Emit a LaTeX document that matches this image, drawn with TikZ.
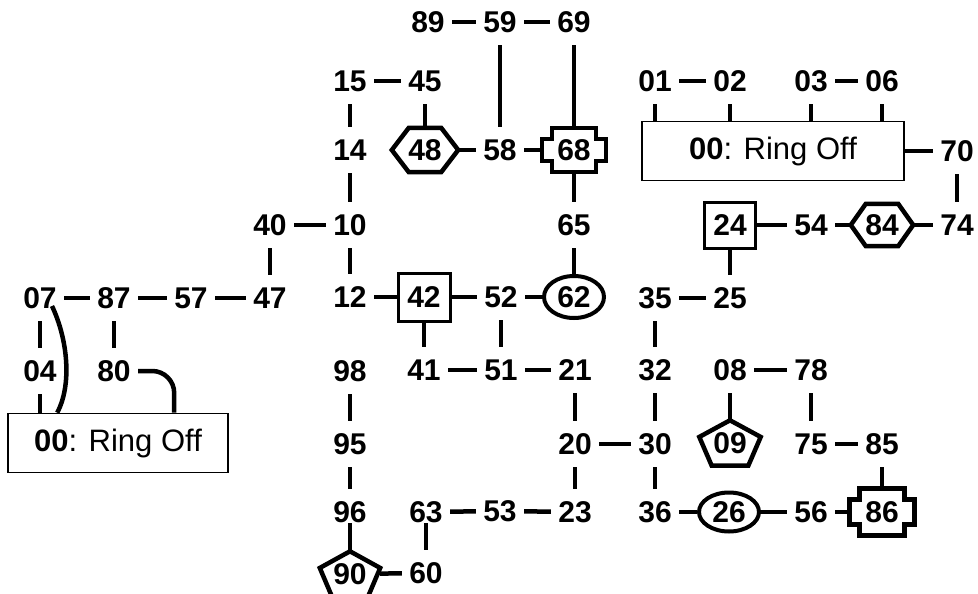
\documentclass[tikz,border=0pt]{standalone}
\usepackage{fontspec}
\setmainfont{Liberation Sans}
\usetikzlibrary{shapes.geometric}
\newcommand\hexo[2]{\draw[shp] (#1.west) -- ([xshift=#2]#1.north west) -- ([xshift=-#2]#1.north east) -- (#1.east) -- ([xshift=-#2]#1.south east) -- ([xshift=#2]#1.south west) -- cycle;}
\newcommand\pento[3]{\draw[shp] (#1.north) -- ([yshift={-0.37*#2}]#1.north east) -- ([xshift={0.3*#3}]#1.south) -- ([xshift={-0.3*#3}]#1.south) -- ([yshift={-0.37*#2}]#1.north west) -- cycle;}
\newcommand\crosso[3]{\draw[shp] ([xshift=#2]#1.north west) -- ([xshift=-#2]#1.north east) -- ([xshift=-#2,yshift=-#3]#1.north east) -- ([yshift=-#3]#1.north east) -- ([yshift=#3]#1.south east) -- ([xshift=-#2,yshift=#3]#1.south east) -- ([xshift=-#2]#1.south east) -- ([xshift=#2]#1.south west) -- ([xshift=#2,yshift=#3]#1.south west) -- ([yshift=#3]#1.south west) -- ([yshift=-#3]#1.north west) -- ([xshift=#2,yshift=-#3]#1.north west) -- cycle;}
\begin{document}
\begin{tikzpicture}[x=1pt,y=-1pt,
  num/.style={font=\fontsize{30}{36}\selectfont\bfseries, inner sep=0pt, minimum width=48pt, minimum height=46pt},
  edge/.style={line width=4.5pt},
  shp/.style={line width=4.5pt, line join=miter},
  sq/.style={num, draw, line width=3pt},
  ell/.style={num, ellipse, draw, line width=4pt},
  lab/.style={draw, line width=1.6pt, inner sep=0pt, font=\fontsize{31}{36}\selectfont}]
\useasboundingbox (0,0) rectangle (978,594);
% row A
\node[num] (n89) at (428,22) {89};
\node[num] (n59) at (500,22) {59};
\node[num] (n69) at (574,22) {69};
% row B
\node[num] (n15) at (350,81) {15};
\node[num] (n45) at (425,81) {45};
\node[num] (n01) at (655,81) {01};
\node[num] (n02) at (730,81) {02};
\node[num] (n03) at (811,81) {03};
\node[num] (n06) at (882,81) {06};
% row C
\node[num] (n14) at (350,150) {14};
\node[num, minimum width=66pt, minimum height=44pt] (h48) at (425,150) {48};
\node[num] (n58) at (500,150) {58};
\node[num, minimum width=64pt, minimum height=44pt] (x68) at (574,150) {68};
\node[lab, minimum width=262pt, minimum height=59pt] (rbox) at (773,151) {\textbf{00}: Ring Off};
\node[num] (n70) at (957,151) {70};
% row D
\node[num] (n40) at (270,225) {40};
\node[num] (n10) at (350,225) {10};
\node[num] (n65) at (574,225) {65};
\node[sq, minimum width=51pt, minimum height=46pt] (s24) at (730,225) {24};
\node[num] (n54) at (811,225) {54};
\node[num, minimum width=62pt, minimum height=42pt] (h84) at (882,225) {84};
\node[num] (n74) at (957,225) {74};
% row E
\node[num] (n07) at (40,298) {07};
\node[num] (n87) at (114,298) {87};
\node[num] (n57) at (191,298) {57};
\node[num] (n47) at (270,298) {47};
\node[num] (n12) at (350,297) {12};
\node[sq, minimum width=52pt, minimum height=48pt] (s42) at (424,297) {42};
\node[num] (n52) at (501,297) {52};
\node[ell, minimum width=60pt, minimum height=42pt] (e62) at (574,297) {62};
\node[num] (n35) at (655,298) {35};
\node[num] (n25) at (730,298) {25};
% row F
\node[num] (n04) at (40,371) {04};
\node[num] (n80) at (114,371) {80};
\node[num] (n98) at (350,371) {98};
\node[num] (n41) at (424,370) {41};
\node[num] (n51) at (501,370) {51};
\node[num] (n21) at (575,370) {21};
\node[num] (n32) at (655,370) {32};
\node[num] (n08) at (730,370) {08};
\node[num] (n78) at (811,370) {78};
% row G
\node[lab, minimum width=220pt, minimum height=59pt] (lbox) at (118,443) {\textbf{00}: Ring Off};
\node[num] (n95) at (350,444) {95};
\node[num] (n20) at (575,444) {20};
\node[num] (n30) at (655,444) {30};
\node[num, minimum width=61pt, minimum height=45pt] (p09) at (730,443) {09};
\node[num] (n75) at (811,444) {75};
\node[num] (n85) at (882,444) {85};
% row H
\node[num] (n96) at (350,512) {96};
\node[num] (n63) at (426,512) {63};
\node[num] (n53) at (500,511) {53};
\node[num] (n23) at (575,512) {23};
\node[num] (n36) at (655,512) {36};
\node[ell, minimum width=60pt, minimum height=39pt] (e26) at (729,512) {26};
\node[num] (n56) at (811,512) {56};
\node[num, minimum width=65pt, minimum height=47pt] (x86) at (882,512) {86};
% row I
\node[num, minimum width=60pt, minimum height=45pt] (p90) at (350,574) {90};
\node[num] (n60) at (426,573) {60};
% shape outlines
\hexo{h48}{17pt}
\hexo{h84}{15pt}
\crosso{x68}{10pt}{11pt}
\crosso{x86}{10pt}{11pt}
\pento{p09}{45}{61}
\pento{p90}{45}{60}
% connectors
\draw[edge] (n89) -- (n59);
\draw[edge] (n59) -- (n69);
\draw[edge] (n59) -- (n58);
\draw[edge] (n69) -- (x68);
\draw[edge] (n15) -- (n45);
\draw[edge] (n15) -- (n14);
\draw[edge] (n45) -- (h48);
\draw[edge] (h48) -- (n58);
\draw[edge] (n58) -- (x68);
\draw[edge] (x68) -- (n65);
\draw[edge] (n65) -- (e62);
\draw[edge] (n14) -- (n10);
\draw[edge] (n40) -- (n10);
\draw[edge] (n40) -- (n47);
\draw[edge] (n10) -- (n12);
\draw[edge] (n12) -- (s42);
\draw[edge] (s42) -- (n52);
\draw[edge] (n52) -- (e62);
\draw[edge] (s42) -- (n41);
\draw[edge] (n52) -- (n51);
\draw[edge] (n41) -- (n51);
\draw[edge] (n51) -- (n21);
\draw[edge] (n21) -- (n20);
\draw[edge] (n20) -- (n30);
\draw[edge] (n20) -- (n23);
\draw[edge] (n63) -- (n53);
\draw[edge] (n53) -- (n23);
\draw[edge, shorten <=-12pt] (n63) -- (n60);
\draw[edge] (p90) -- (n60);
\draw[edge, shorten <=-12pt] (n96) -- (p90);
\draw[edge] (n98) -- (n95);
\draw[edge] (n95) -- (n96);
\draw[edge] (n07) -- (n87);
\draw[edge] (n87) -- (n57);
\draw[edge] (n57) -- (n47);
\draw[edge] (n07) -- (n04);
\draw[edge] (n87) -- (n80);
\draw[edge] (n04) -- (n04 |- lbox.north);
\coordinate (c07) at (52,306);
\draw[edge] (c07) .. controls (68,340) and (72,385) .. ([xshift=50pt]lbox.north west);
\draw[edge, rounded corners=22pt] (n80.east) -| ([xshift=167pt]lbox.north west);
\draw[edge] (n01) -- (n02);
\draw[edge] (n03) -- (n06);
\draw[edge] (n01) -- (n01 |- rbox.north);
\draw[edge] (n02) -- (n02 |- rbox.north);
\draw[edge] (n03) -- (n03 |- rbox.north);
\draw[edge] (n06) -- (n06 |- rbox.north);
\draw[edge] (rbox) -- (n70);
\draw[edge] (n70) -- (n74);
\draw[edge] (n74) -- (h84);
\draw[edge] (h84) -- (n54);
\draw[edge] (n54) -- (s24);
\draw[edge] (s24) -- (n25);
\draw[edge] (n35) -- (n25);
\draw[edge] (n35) -- (n32);
\draw[edge] (n32) -- (n30);
\draw[edge] (n30) -- (n36);
\draw[edge] (n36) -- (e26);
\draw[edge] (e26) -- (n56);
\draw[edge] (n56) -- (x86);
\draw[edge] (n85) -- (x86);
\draw[edge] (n75) -- (n85);
\draw[edge] (n78) -- (n75);
\draw[edge] (n08) -- (n78);
\draw[edge] (n08) -- (p09);
\end{tikzpicture}
\end{document}
